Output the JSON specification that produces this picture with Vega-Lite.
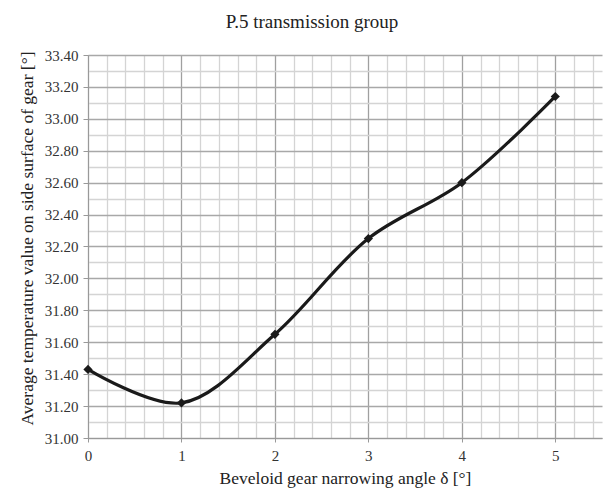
{
  "$schema": "https://vega.github.io/schema/vega-lite/v6.json",
  "width": 514,
  "height": 383,
  "autosize": "none",
  "padding": {"left": 88, "top": 55, "right": 3, "bottom": 51},
  "background": "white",
  "title": {"text": "P.5 transmission group", "font": "Times New Roman, Liberation Serif, DejaVu Serif, serif", "fontSize": 19, "fontWeight": "normal", "color": "#222", "baseline": "alphabetic", "offset": 1, "dx": -33},
  "config": {
    "view": {"stroke": null},
    "axis": {"labelFont": "Liberation Serif", "titleFont": "Times New Roman, Liberation Serif, DejaVu Serif, serif", "labelColor": "#333", "titleColor": "#222", "labelFontSize": 15, "titleFontSize": 17.5, "titleFontWeight": "normal", "domainColor": "#999", "tickColor": "#999"}
  },
  "data": {"values": [
    {"angle": 0, "temp": 31.43},
    {"angle": 1, "temp": 31.22},
    {"angle": 2, "temp": 31.65},
    {"angle": 3, "temp": 32.25},
    {"angle": 4, "temp": 32.60},
    {"angle": 5, "temp": 33.14}
  ]},
  "encoding": {
    "x": {"field": "angle", "type": "quantitative", "scale": {"domain": [0, 5.5], "nice": false},
      "axis": {"title": "Beveloid gear narrowing angle δ [°]",
        "values": [0,0.2,0.4,0.6,0.8,1,1.2,1.4,1.6,1.8,2,2.2,2.4,2.6,2.8,3,3.2,3.4,3.6,3.8,4,4.2,4.4,4.6,4.8,5,5.2,5.4],
        "labelExpr": "abs(datum.value - round(datum.value)) < 0.001 ? format(datum.value, 'd') : ''",
        "gridColor": {"condition": {"test": "abs(datum.value - round(datum.value)) < 0.001", "value": "#a0a0a0"}, "value": "#d4d4d4"},
        "tickOpacity": {"condition": {"test": "abs(datum.value - round(datum.value)) < 0.001", "value": 1}, "value": 0},
        "gridWidth": 1.3, "tickSize": 4, "labelPadding": 6, "labelFontSize": 15, "titleBaseline": "alphabetic", "titleY": 45, "labelFlush": false}},
    "y": {"field": "temp", "type": "quantitative", "scale": {"domain": [31, 33.4], "nice": false, "zero": false},
      "axis": {"title": "Average temperature value on side surface of gear [°]",
        "values": [31,31.1,31.2,31.3,31.4,31.5,31.6,31.7,31.8,31.9,32,32.1,32.2,32.3,32.4,32.5,32.6,32.7,32.8,32.9,33,33.1,33.2,33.3,33.4],
        "labelExpr": "abs(datum.value*5 - round(datum.value*5)) < 0.001 ? format(datum.value, '.2f') : ''",
        "gridColor": {"condition": {"test": "abs(datum.value*5 - round(datum.value*5)) < 0.001", "value": "#a8a8a8"}, "value": "#d4d4d4"},
        "tickOpacity": {"condition": {"test": "abs(datum.value*5 - round(datum.value*5)) < 0.001", "value": 1}, "value": 0},
        "gridWidth": 1.3, "tickSize": 5, "labelPadding": 5, "labelFontSize": 15, "titleBaseline": "alphabetic", "titleX": -56, "titleY": 183, "labelFlush": false}}
  },
  "layer": [
    {"mark": {"type": "line", "interpolate": "catmull-rom", "color": "#1a1a1a", "strokeWidth": 3.2}},
    {"mark": {"type": "point", "shape": "diamond", "filled": true, "color": "#1a1a1a", "size": 85, "opacity": 1}}
  ]
}
